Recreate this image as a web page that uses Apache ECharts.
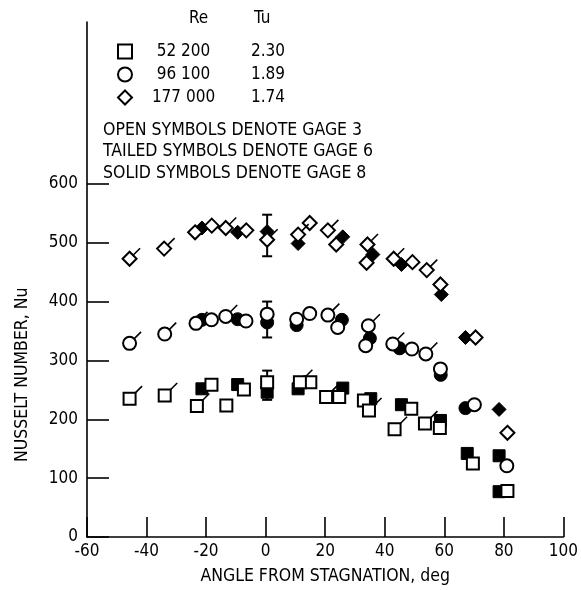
<!DOCTYPE html>
<html><head><meta charset="utf-8">
<script src="https://cdn.jsdelivr.net/npm/echarts@6/dist/echarts.min.js"></script>
<style>html,body{margin:0;padding:0;background:#fff}#c{width:581px;height:590px}</style>
</head><body><div id="c"></div>
<script>
const FONT = '"Liberation Sans Narrow","DejaVu Sans Condensed",sans-serif';

// ---- legend / annotation text ----
const reValues = ['52 200', '96 100', '177 000'];
const tuValues = ['2.30', '1.89', '1.74'];
const noteLines = ['OPEN SYMBOLS DENOTE GAGE 3', 'TAILED SYMBOLS DENOTE GAGE 6', 'SOLID SYMBOLS DENOTE GAGE 8'];
const yTickValues = [0, 100, 200, 300, 400, 500, 600];

// ---- data [angle, Nu] ----
// Re = 52 200 (squares)
const sqOpen  = [[-18.2,258.6],[-13.2,223.6],[-7.3,250.7],[0.5,263],[15,263],[24.7,238],[33,232],[48.9,218],[58.5,185.4],[69.6,125],[81.2,78]];
const sqTail  = [[-45.7,235],[-33.9,240.5],[-23.1,222.6],[11.5,263],[20.3,238],[34.7,215],[43.3,183],[53.5,192.7]];
const sqSolid = [[-21.4,251.8],[-9.4,259],[0.5,246],[10.9,251.8],[25.9,253],[35.3,235],[45.6,224.8],[58.7,198],[67.7,142],[78.4,138],[78.4,77]];
// Re = 96 100 (circles)
const ciOpen  = [[-18.2,369],[-6.6,367],[0.5,378.6],[10.4,370],[14.8,379.7],[24.2,356],[33.6,325],[49.1,319.4],[58.7,285.6],[70.1,224.8],[81,121]];
const ciTail  = [[-45.7,329],[-33.9,344.8],[-23.4,363],[-13.4,374.7],[20.9,377],[34.5,359],[42.7,328],[53.8,311]];
const ciSolid = [[-21.4,369],[-9.4,370],[0.5,364.5],[10.4,360],[25.6,369],[35,337.5],[45,320.6],[58.8,275.5],[67.1,219]];
// Re = 177 000 (diamonds)
const diOpen  = [[-23.7,517.7],[-18.1,529],[-6.5,521],[14.8,533.5],[23.7,497],[33.9,466],[49.3,467],[58.7,429],[70.5,339],[81.2,177]];
const diTail  = [[-45.7,472.7],[-34.1,490],[-13.4,525],[0.5,505],[10.9,513.8],[20.9,521],[34.2,497],[43,472.7],[54.1,453.5]];
const diSolid = [[-21.4,525],[-9.4,517.7],[0.5,519],[10.9,498.6],[25.9,510],[36,480],[45.6,463],[59,412],[67.1,339],[78.4,216.8]];
// error bars at stagnation [angle, low, high]
const errBars = [[0.5,477,547.6],[0.5,339,400],[0.5,233,282.7]];

const chart = echarts.init(document.getElementById('c'), null, {renderer: 'canvas'});

function markSeries(name, symbol, size, data, filled) {
  return {
    name, type: 'scatter', data, symbol, symbolSize: size, z: filled ? 3 : 4,
    itemStyle: filled ? {color: '#000', borderColor: '#000', borderWidth: 1, opacity: 1}
                      : {color: '#fff', borderColor: '#000', borderWidth: 2, opacity: 1},
    emphasis: {disabled: true}, silent: true
  };
}
function tailSeries(data, off) {
  return {
    type: 'scatter', data, symbol: 'path://M0,10L10,0', symbolSize: 7,
    symbolOffset: [off, -off], z: 5, silent: true,
    itemStyle: {color: 'transparent', borderColor: '#000', borderWidth: 1.6, opacity: 1},
    emphasis: {disabled: true}
  };
}

const option = {
  backgroundColor: '#fff',
  animation: false,
  textStyle: {fontFamily: FONT},
  grid: {left: 87, right: 11, top: 22, bottom: 51},
  xAxis: {
    type: 'value', min: -60, max: 100, interval: 20,
    name: 'ANGLE FROM STAGNATION, deg', nameLocation: 'middle', nameGap: 30,
    nameTextStyle: {fontFamily: FONT, fontSize: 17.5, color: '#000'},
    axisLine: {show: true, onZero: false, lineStyle: {color: '#000', width: 1.6}},
    axisTick: {show: true, inside: true, length: 20, lineStyle: {color: '#000', width: 1.6}},
    axisLabel: {color: '#000', fontFamily: FONT, fontSize: 17, margin: 6},
    splitLine: {show: false}
  },
  yAxis: {
    type: 'value', min: 0, max: 875,
    axisLine: {show: true, onZero: false, lineStyle: {color: '#000', width: 1.6}},
    axisTick: {show: true, inside: true, length: 22, customValues: yTickValues, lineStyle: {color: '#000', width: 1.6}},
    axisLabel: {color: '#000', fontFamily: FONT, fontSize: 17, margin: 9, customValues: yTickValues},
    splitLine: {show: false}
  },
  legend: {
    orient: 'vertical', left: 112, top: 38, itemWidth: 14, itemHeight: 14, itemGap: 6,
    selectedMode: false, data: reValues,
    itemStyle: {color: '#fff', borderColor: '#000', borderWidth: 2},
    formatter: name => '{a|' + name + '}{b|' + tuValues[reValues.indexOf(name)] + '}',
    textStyle: {
      fontFamily: FONT, fontSize: 17, color: '#000',
      rich: {
        a: {fontFamily: FONT, fontSize: 17, width: 93, align: 'right'},
        b: {fontFamily: FONT, fontSize: 17, padding: [0, 0, 0, 21]}
      }
    }
  },
  graphic: [
    {type: 'text', left: 189, top: 10, style: {text: 'Re', font: '17px ' + FONT, fill: '#000'}},
    {type: 'text', left: 254, top: 10, style: {text: 'Tu', font: '17px ' + FONT, fill: '#000'}},
    ...noteLines.map((t, i) => ({type: 'text', left: 103, top: [121, 142, 164][i], style: {text: t, font: '17.5px ' + FONT, fill: '#000'}})),
    {type: 'text', x: 13, y: 462, rotation: Math.PI / 2,
     style: {text: 'NUSSELT NUMBER, Nu', font: '17.5px ' + FONT, fill: '#000', align: 'left', verticalAlign: 'top'}}
  ],
  series: [
    {
      type: 'custom', z: 2, silent: true, data: errBars,
      encode: {x: 0, y: [1, 2]},
      renderItem: (params, api) => {
        const lo = api.coord([api.value(0), api.value(1)]);
        const hi = api.coord([api.value(0), api.value(2)]);
        const st = {stroke: '#000', lineWidth: 2};
        return {type: 'group', children: [
          {type: 'line', shape: {x1: lo[0], y1: lo[1], x2: hi[0], y2: hi[1]}, style: st},
          {type: 'line', shape: {x1: lo[0] - 5, y1: lo[1], x2: lo[0] + 5, y2: lo[1]}, style: st},
          {type: 'line', shape: {x1: hi[0] - 5, y1: hi[1], x2: hi[0] + 5, y2: hi[1]}, style: st}
        ]};
      }
    },
    markSeries('sqSolid', 'rect', 12, sqSolid, true),
    markSeries('ciSolid', 'circle', 13, ciSolid, true),
    markSeries('diSolid', 'diamond', 14, diSolid, true),
    markSeries('52 200', 'rect', 12, sqOpen, false),
    markSeries('96 100', 'circle', 13, ciOpen, false),
    markSeries('177 000', 'diamond', 14, diOpen, false),
    markSeries('sqTail', 'rect', 12, sqTail, false),
    markSeries('ciTail', 'circle', 13, ciTail, false),
    markSeries('diTail', 'diamond', 14, diTail, false),
    tailSeries(sqTail, 9),
    tailSeries(ciTail, 8),
    tailSeries(diTail, 7)
  ]
};
chart.setOption(option);
</script>
</body></html>
